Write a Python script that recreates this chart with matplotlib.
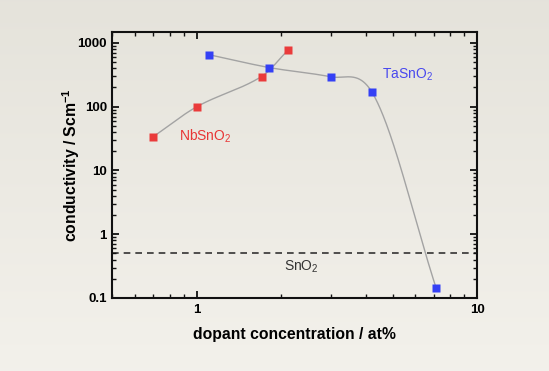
import numpy as np
import matplotlib
matplotlib.use("Agg")
import matplotlib.pyplot as plt
from matplotlib.ticker import LogLocator, NullFormatter, FixedLocator, FixedFormatter

# ---- data ----
nb_x = [0.70, 1.00, 1.70, 2.11]
nb_y = [34, 100, 297, 766]
ta_x = [1.10, 1.81, 3.00, 4.21, 7.13]
ta_y = [656, 411, 294, 169, 0.144]
sno2_level = 0.50
y_ticks = [0.1, 1, 10, 100, 1000]
y_ticklabels = ["0.1", "1", "10", "100", "1000"]
x_ticks = [1, 10]
x_ticklabels = ["1", "10"]

plt.rcParams['font.family'] = ['Liberation Sans', 'DejaVu Sans']
plt.rcParams['mathtext.fontset'] = 'custom'
plt.rcParams['mathtext.rm'] = 'Liberation Sans'
plt.rcParams['mathtext.bf'] = 'Liberation Sans:bold'


def smooth_curve(x, y, n=200, limit=4.5):
    """Catmull-Rom tangents with limited overshoot; cubic Hermite connecting line."""
    x = np.asarray(x, float)
    y = np.asarray(y, float)
    h = np.diff(x)
    d = np.diff(y) / h
    m = np.zeros_like(x)
    for k in range(1, len(x) - 1):
        m[k] = (y[k + 1] - y[k - 1]) / (x[k + 1] - x[k - 1])
    m[0] = d[0]
    m[-1] = d[-1]
    for k in range(len(d)):
        if d[k] == 0:
            continue
        a = m[k] / d[k]
        b = m[k + 1] / d[k]
        s = a * a + b * b
        if s > limit ** 2:
            tau = limit / np.sqrt(s)
            m[k] = tau * a * d[k]
            m[k + 1] = tau * b * d[k]
    xs, ys = [], []
    for k in range(len(x) - 1):
        t = np.linspace(0, 1, n)
        h00 = 2 * t**3 - 3 * t**2 + 1
        h10 = t**3 - 2 * t**2 + t
        h01 = -2 * t**3 + 3 * t**2
        h11 = t**3 - t**2
        xs.append(x[k] + t * h[k])
        ys.append(h00 * y[k] + h10 * h[k] * m[k] + h01 * y[k + 1] + h11 * h[k] * m[k + 1])
    return np.concatenate(xs), np.concatenate(ys)


fig = plt.figure(figsize=(5.49, 3.71), dpi=100)

# background gradient
bg = fig.add_axes([0, 0, 1, 1], zorder=-10)
grad = np.linspace(0, 1, 256)[:, None]
top = np.array([0.898, 0.890, 0.859])
bot = np.array([0.953, 0.945, 0.922])
img = top[None, None, :] * (1 - grad[:, :, None]) + bot[None, None, :] * grad[:, :, None]
bg.imshow(img, aspect='auto', extent=[0, 1, 0, 1])
bg.axis('off')

ax = fig.add_axes([0.2049, 0.1968, 0.6645, 0.7178])
ax.set_facecolor('none')
ax.set_xscale('log')
ax.set_yscale('log')
ax.set_xlim(0.5, 10)
ax.set_ylim(0.1, 1500)

line_col = '#a3a3a3'
lx, ly = smooth_curve(np.log10(nb_x), np.log10(nb_y))
ax.plot(10**lx, 10**ly, color=line_col, lw=1.0, zorder=2)
lx, ly = smooth_curve(np.log10(ta_x), np.log10(ta_y))
ax.plot(10**lx, 10**ly, color=line_col, lw=1.0, zorder=2)

ax.plot(nb_x, nb_y, 's', color='#ea3b3b', ms=6, mec='none', zorder=3)
ax.plot(ta_x, ta_y, 's', color='#3440f5', ms=6, mec='none', zorder=3)

ax.axhline(sno2_level, color='#333333', lw=1.2, ls=(0, (4, 3)), zorder=1)

ax.text(0.865, 34, r'NbSnO$_\mathregular{2}$', color='#e83535', fontsize=10,
        va='center', ha='left')
ax.text(4.57, 320, r'TaSnO$_\mathregular{2}$', color='#4848ee', fontsize=10,
        va='center', ha='left')
ax.text(2.05, 0.31, r'SnO$_\mathregular{2}$', color='#333333', fontsize=10,
        va='center', ha='left')

for s in ax.spines.values():
    s.set_linewidth(1.5)
    s.set_color('#111111')

ax.yaxis.set_major_locator(FixedLocator(y_ticks))
ax.yaxis.set_major_formatter(FixedFormatter(y_ticklabels))
ax.xaxis.set_major_locator(FixedLocator(x_ticks))
ax.xaxis.set_major_formatter(FixedFormatter(x_ticklabels))
ax.xaxis.set_minor_locator(LogLocator(base=10, subs=np.arange(2, 10), numticks=20))
ax.yaxis.set_minor_locator(LogLocator(base=10, subs=np.arange(2, 10), numticks=20))
ax.xaxis.set_minor_formatter(NullFormatter())
ax.yaxis.set_minor_formatter(NullFormatter())
ax.tick_params(which='both', direction='in', top=True, right=True, color='#111111')
ax.tick_params(which='major', length=5, width=1.3, labelsize=9.5, pad=4)
ax.tick_params(which='minor', length=3, width=1.0)
for lab in ax.get_xticklabels() + ax.get_yticklabels():
    lab.set_fontweight('bold')

ax.set_xlabel('dopant concentration / at%', fontsize=11.3, fontweight='bold', labelpad=8)
ax.set_ylabel(r'conductivity / Scm$^{\mathbf{-1}}$', fontsize=11.3,
              fontweight='bold', labelpad=-3)

fig.savefig('out.png', dpi=100, facecolor=fig.get_facecolor())
